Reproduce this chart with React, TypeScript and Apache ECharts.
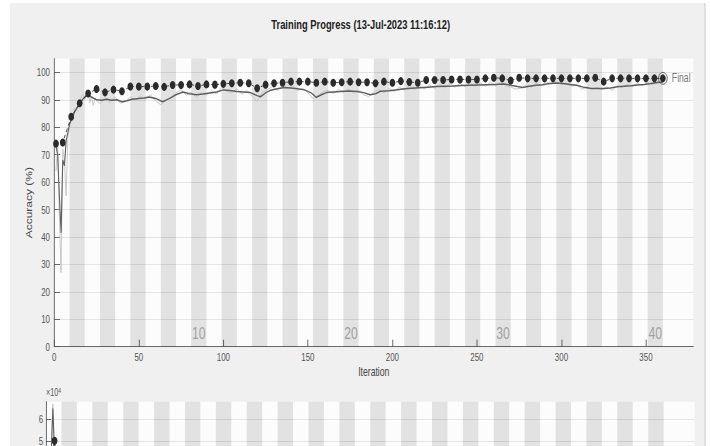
import React, { useEffect, useRef } from "react";
import * as echarts from "echarts";

// The reference picture is horizontally squeezed; draw wide, then scale X.
const SX = 0.72;
const VIEW_W = 710;
const VIEW_H = 446;
const CW = Math.round(VIEW_W / SX);
const u = (x: number) => x / SX;
const FONT = "'Liberation Sans', Arial, Helvetica, sans-serif";

const titleText = "Training Progress (13-Jul-2023 11:16:12)";
const yAxisTitle = "Accuracy (%)";
const xAxisTitle = "Iteration";
const finalText = "Final";
const itersPerEpoch = 9;
const numEpochs = 40;
const xMax = 378;
const epochMarks = [10, 20, 30, 40];
const epochLabelLevel = 4.8;

const valIters = [1, 5, 10, 15, 20, 25, 30, 35, 40, 45, 50, 55, 60, 65, 70, 75, 80, 85, 90, 95, 100, 105, 110, 115, 120, 125, 130, 135, 140, 145, 150, 155, 160, 165, 170, 175, 180, 185, 190, 195, 200, 205, 210, 215, 220, 225, 230, 235, 240, 245, 250, 255, 260, 265, 270, 275, 280, 285, 290, 295, 300, 305, 310, 315, 320, 325, 330, 335, 340, 345, 350, 355, 360];
const valAcc = [74.0, 74.4, 83.8, 88.7, 92.3, 93.9, 92.7, 93.7, 93.1, 94.8, 94.8, 94.8, 95.0, 94.7, 95.4, 95.4, 95.6, 95.0, 95.6, 95.5, 95.8, 96.0, 96.2, 96.0, 94.2, 95.5, 96.0, 96.2, 96.6, 96.6, 96.6, 96.2, 96.6, 96.2, 96.4, 96.6, 96.4, 96.4, 96.0, 96.6, 96.2, 96.8, 96.5, 96.2, 97.2, 97.2, 97.2, 97.4, 97.4, 97.4, 97.4, 97.8, 98.0, 97.8, 97.0, 98.0, 97.8, 97.8, 97.8, 97.8, 97.8, 97.8, 97.8, 97.8, 98.0, 96.6, 97.8, 97.8, 97.8, 97.8, 97.8, 97.8, 97.8];

const smoothIters = [1, 2, 3, 4, 5, 6, 7, 8, 9, 10, 11, 12, 13, 14, 15, 16, 17, 18, 19, 20, 22, 25, 28, 31, 34, 37, 40, 43, 46, 50, 53, 56, 60, 64, 68, 72, 76, 80, 84, 88, 92, 96, 100, 104, 108, 112, 116, 120, 122, 125, 128, 132, 136, 140, 144, 148, 152, 155, 158, 161, 165, 169, 174, 179, 183, 187, 190, 193, 198, 202, 206, 211, 216, 221, 226, 231, 236, 241, 246, 251, 256, 261, 266, 270, 274, 277, 281, 285, 289, 293, 297, 301, 305, 309, 313, 317, 321, 325, 329, 333, 337, 341, 345, 349, 353, 357, 360];
const smoothAcc = [73, 70, 55, 41.5, 68, 66, 75, 78, 81, 82.5, 84, 85.5, 86.5, 87.5, 88.5, 89.5, 90.3, 91, 91.5, 91.5, 91, 90, 89.8, 90.2, 89.8, 90, 89.3, 89.6, 90.2, 90.5, 90.6, 91, 90.5, 89.3, 90.4, 91.8, 92.8, 92.2, 91.8, 92.1, 92.5, 92.8, 93.6, 93.4, 93.0, 92.8, 92.6, 91.5, 91.1, 92.5, 93.5, 94.0, 94.5, 94.3, 94.0, 93.6, 92.5, 90.9, 91.8, 92.6, 92.8, 93.0, 93.2, 93.0, 92.6, 91.8, 92.2, 93.1, 93.3, 93.6, 93.9, 94.2, 94.4, 94.6, 94.8, 94.9, 95.0, 95.2, 95.3, 95.4, 95.5, 95.6, 95.7, 95.3, 94.8, 94.5, 94.9, 95.3, 95.5, 95.9, 96.1, 95.9, 95.6, 95.3, 94.6, 94.2, 94.1, 94.1, 94.3, 94.7, 94.9, 95.1, 95.4, 95.6, 95.9, 96.3, 96.5];

const rawIters = [1, 2, 3, 4, 5, 6, 7, 8, 9, 10, 11, 12, 13, 14, 15, 16, 17, 18, 19, 20, 21, 22, 23, 24, 27, 30, 33, 36, 39, 42, 45, 48, 51, 54, 57, 60, 63, 66, 69, 72, 75, 78, 81, 84, 87, 90, 93, 96, 99, 102, 105, 108, 111, 114, 117, 120, 123, 126, 129, 132, 135, 138, 141, 144, 147, 150, 153, 156, 159, 162, 165, 168, 171, 174, 177, 180, 183, 186, 189, 192, 195, 198, 201, 204, 207, 210, 213, 216, 219, 222, 225, 228, 231, 234, 237, 240, 243, 246, 249, 252, 255, 258, 261, 264, 267, 270, 273, 276, 279, 282, 285, 288, 291, 294, 297, 300, 303, 306, 309, 312, 315, 318, 321, 324, 327, 330, 333, 336, 339, 342, 345, 348, 351, 354, 357, 360];
const rawAcc = [64, 73, 48, 27, 72, 68, 55, 76, 80, 84, 83, 87, 86, 88, 89, 91, 92, 90, 92, 93, 89, 91, 88, 90.5, 88.5, 90.8, 89, 91, 88.8, 89.2, 91, 89.8, 91.5, 90, 91.8, 89.5, 88.2, 89.8, 91, 92.5, 93.8, 91.6, 92.8, 90.8, 92.6, 91.8, 93.2, 92.1, 94.5, 93, 92.6, 94, 92, 93.4, 91.4, 89.5, 92.8, 93.6, 94.8, 93.4, 95.3, 94, 95, 93.4, 94.2, 92.6, 90.4, 91.6, 92.8, 93.5, 92.2, 93.8, 92.6, 94, 92.5, 93.6, 91.8, 91.2, 92.8, 93.8, 92.6, 94.1, 93, 94.6, 93.5, 95, 93.8, 95.2, 94, 95.4, 94.2, 95.6, 94.3, 95.8, 94.6, 96, 94.8, 96.1, 94.9, 96.2, 95, 96.3, 95.1, 96.4, 95, 94.6, 93.9, 94.2, 95.4, 94.6, 96, 95.2, 96.6, 95.6, 96.8, 95.4, 96.2, 94.9, 95.6, 93.8, 94.8, 93.6, 94.5, 93.7, 94.8, 93.4, 95.2, 94.5, 95.7, 94.8, 96, 95.2, 96.3, 95.4, 96.8, 96.2];

// lower panel (loss, in units of 10^4)
const lossIters = [1, 2, 3, 4, 5, 6, 7, 8, 9, 10, 12, 15, 20, 30];
const lossRaw = [2.7, 3.0, 4.3, 6.7, 3.9, 2.3, 1.6, 1.2, 1.0, 0.8, 0.6, 0.4, 0.3, 0.2];
const lossSmooth = [2.8, 3.1, 4.4, 6.5, 4.4, 3.1, 2.3, 1.8, 1.4, 1.1, 0.8, 0.5, 0.35, 0.25];
const valLossIters = [1, 5, 10, 15];
const valLoss = [3.2, 5.0, 1.0, 0.6];
const lossMax = 6.8;

const pairs = (xs: number[], ys: number[]) => xs.map((x, i) => [x, ys[i]]);

const bands: any[] = [];
for (let e = 2; e <= numEpochs; e += 2) {
  bands.push([{ xAxis: (e - 1) * itersPerEpoch }, { xAxis: e * itersPerEpoch }]);
}
const epochLabelData = epochMarks.map((e) => [(e - 0.5) * itersPerEpoch, epochLabelLevel, e]);
const finalPoint = [valIters[valIters.length - 1], valAcc[valAcc.length - 1]];

const axisColor = "#555";
const labelStyle = { fontFamily: FONT, fontSize: 11, color: "#555" };

const option: any = {
  animation: false,
  backgroundColor: "#f0f0f0",
  title: {
    text: titleText,
    left: u(360.7),
    top: 18,
    textAlign: "center",
    padding: 0,
    textStyle: { fontFamily: FONT, fontSize: 13, fontWeight: "bold", color: "#222" },
  },
  graphic: [
    { type: "rect", shape: { x: 0, y: 0, width: u(10), height: VIEW_H }, style: { fill: "#ffffff" } },
    { type: "rect", shape: { x: 0, y: 0, width: CW, height: 3 }, style: { fill: "#ffffff" } },
    { type: "rect", shape: { x: u(705), y: 0, width: CW - u(705), height: VIEW_H }, style: { fill: "#ffffff" } },
    { type: "line", shape: { x1: u(705), y1: 3, x2: u(705), y2: VIEW_H }, style: { stroke: "#c4c4c4", lineWidth: 1 } },
  ],
  grid: [
    {
      left: u(54.3), top: 58.6, width: u(693.3) - u(54.3), height: 288.1,
      show: true, backgroundColor: "#fcfcfc", borderWidth: 0,
      containLabel: false, outerBoundsMode: "none",
    },
    {
      left: u(46), top: 401.7, width: u(694.5) - u(46), height: lossMax * 21.7,
      show: true, backgroundColor: "#fcfcfc", borderWidth: 0,
      containLabel: false, outerBoundsMode: "none",
    },
  ],
  xAxis: [
    {
      gridIndex: 0,
      type: "value",
      min: 0,
      max: xMax,
      interval: 50,
      name: xAxisTitle,
      nameLocation: "middle",
      nameGap: 19,
      nameMoveOverlap: false,
      nameTextStyle: { fontFamily: FONT, fontSize: 12, color: "#444" },
      axisLine: { lineStyle: { color: axisColor } },
      axisTick: { inside: true, length: 7, lineStyle: { color: axisColor } },
      axisLabel: { ...labelStyle, margin: 5, showMaxLabel: false },
      splitLine: { show: false },
    },
    {
      gridIndex: 1,
      type: "value",
      min: 0,
      max: xMax,
      interval: 50,
      axisLine: { lineStyle: { color: axisColor } },
      axisTick: { show: false },
      axisLabel: { show: false },
      splitLine: { show: false },
    },
  ],
  yAxis: [
    {
      gridIndex: 0,
      type: "value",
      min: 0,
      max: 105,
      interval: 10,
      name: yAxisTitle,
      nameLocation: "middle",
      nameRotate: 90,
      nameGap: 29,
      nameMoveOverlap: false,
      nameTextStyle: { fontFamily: FONT, fontSize: 12, color: "#444" },
      axisLine: { show: true, lineStyle: { color: axisColor } },
      axisTick: { show: true, inside: true, length: 8, lineStyle: { color: axisColor } },
      axisLabel: { ...labelStyle, margin: 6, showMaxLabel: false },
      splitLine: { show: true, showMaxLine: false, lineStyle: { color: "#e0e0e0", width: 1 } },
    },
    {
      gridIndex: 1,
      type: "value",
      min: 0,
      max: lossMax,
      interval: 1,
      name: "{a|×10}{b|4}",
      nameLocation: "end",
      nameGap: 3,
      nameTextStyle: {
        align: "left",
        verticalAlign: "bottom",
        rich: {
          a: { fontFamily: FONT, fontSize: 10, color: "#555", lineHeight: 12 },
          b: { fontFamily: FONT, fontSize: 7, color: "#555", verticalAlign: "top", lineHeight: 12 },
        },
      },
      axisLine: { show: true, lineStyle: { color: axisColor } },
      axisTick: { show: true, inside: true, length: 7, lineStyle: { color: axisColor } },
      axisLabel: {
        ...labelStyle,
        margin: 4,
        showMaxLabel: false,
        formatter: (v: number) => (v >= 5 ? String(v) : ""),
      },
      splitLine: { show: true, showMaxLine: false, lineStyle: { color: "#e0e0e0", width: 1 } },
    },
  ],
  series: [
    {
      name: "epochs",
      type: "line",
      xAxisIndex: 0,
      yAxisIndex: 0,
      data: [],
      z: 1,
      silent: true,
      markArea: { silent: true, itemStyle: { color: "rgba(0,0,0,0.1)" }, data: bands },
    },
    {
      name: "Training accuracy",
      type: "line",
      xAxisIndex: 0,
      yAxisIndex: 0,
      data: pairs(rawIters, rawAcc),
      showSymbol: false,
      z: 2,
      lineStyle: { color: "#c2c2c2", width: 1 },
    },
    {
      name: "Smoothed training accuracy",
      type: "line",
      xAxisIndex: 0,
      yAxisIndex: 0,
      data: pairs(smoothIters, smoothAcc),
      showSymbol: false,
      z: 3,
      lineStyle: { color: "#5f5f5f", width: 1.5 },
    },
    {
      name: "Validation accuracy",
      type: "line",
      xAxisIndex: 0,
      yAxisIndex: 0,
      data: pairs(valIters, valAcc),
      symbol: "circle",
      symbolSize: 8,
      z: 4,
      lineStyle: { color: "#333", width: 1, type: [4, 3] },
      itemStyle: { color: "#2b2b2b" },
    },
    {
      name: "Final",
      type: "scatter",
      xAxisIndex: 0,
      yAxisIndex: 0,
      data: [finalPoint],
      symbol: "circle",
      symbolSize: 12,
      z: 5,
      itemStyle: { color: "rgba(0,0,0,0)", borderColor: "#333", borderWidth: 1 },
      label: { show: true, position: "right", distance: 6, formatter: finalText, fontFamily: FONT, fontSize: 12, color: "#555" },
    },
    {
      name: "Epoch",
      type: "scatter",
      xAxisIndex: 0,
      yAxisIndex: 0,
      data: epochLabelData,
      symbolSize: 1,
      z: 5,
      itemStyle: { color: "rgba(0,0,0,0)" },
      label: {
        show: true,
        position: "inside",
        formatter: (p: any) => String(p.value[2]),
        fontFamily: FONT,
        fontSize: 17,
        color: "#909090",
      },
    },
    {
      name: "epochs2",
      type: "line",
      xAxisIndex: 1,
      yAxisIndex: 1,
      data: [],
      z: 1,
      silent: true,
      markArea: { silent: true, itemStyle: { color: "rgba(0,0,0,0.1)" }, data: bands },
    },
    {
      name: "Training loss",
      type: "line",
      xAxisIndex: 1,
      yAxisIndex: 1,
      data: pairs(lossIters, lossRaw),
      showSymbol: false,
      z: 2,
      lineStyle: { color: "#c2c2c2", width: 1 },
    },
    {
      name: "Smoothed training loss",
      type: "line",
      xAxisIndex: 1,
      yAxisIndex: 1,
      data: pairs(lossIters, lossSmooth),
      showSymbol: false,
      z: 3,
      lineStyle: { color: "#5f5f5f", width: 1.5 },
    },
    {
      name: "Validation loss",
      type: "line",
      xAxisIndex: 1,
      yAxisIndex: 1,
      data: pairs(valLossIters, valLoss),
      symbol: "circle",
      symbolSize: 8,
      z: 4,
      lineStyle: { color: "#333", width: 1, type: [4, 3] },
      itemStyle: { color: "#2b2b2b" },
    },
  ],
};

export default function App() {
  const ref = useRef<HTMLDivElement>(null);
  useEffect(() => {
    const chart = echarts.init(ref.current as HTMLDivElement, undefined, { renderer: "svg" });
    chart.setOption(option);
    return () => chart.dispose();
  }, []);
  return (
    <div style={{ position: "fixed", left: 0, top: 0, width: VIEW_W, height: VIEW_H, overflow: "hidden", background: "#fff" }}>
      <div ref={ref} style={{ width: CW, height: VIEW_H, transform: `scaleX(${SX})`, transformOrigin: "0 0" }} />
    </div>
  );
}
